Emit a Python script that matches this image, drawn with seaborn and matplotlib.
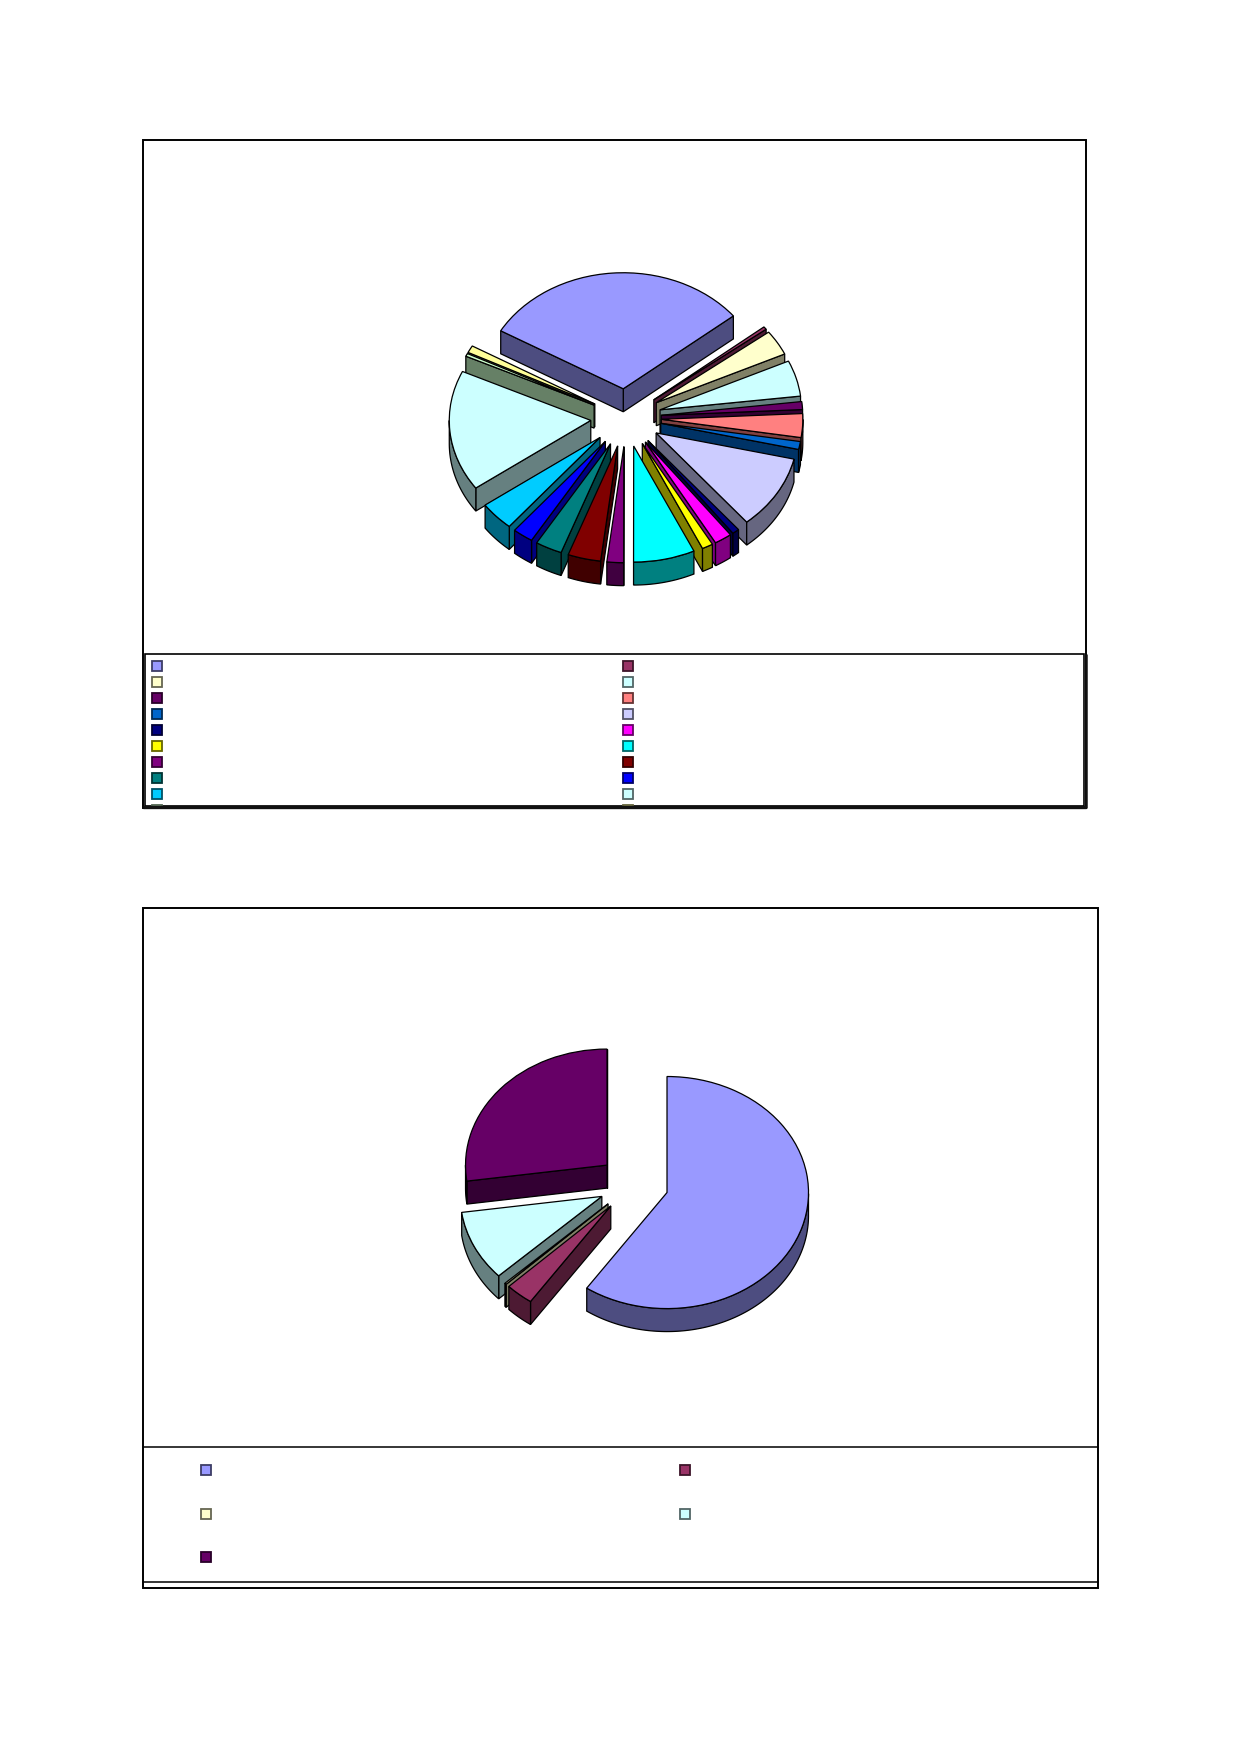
import numpy as np
import seaborn as sns
import matplotlib.pyplot as plt
from matplotlib.patches import Polygon, Rectangle

# slice shares (percent, clockwise)
top_values = [30.8, 0.4, 3.5, 5.0, 1.1, 3.3, 1.1, 10.3, 0.8, 2.0,
              1.25, 7.0, 1.9, 3.75, 3.05, 2.35, 4.0, 16.8, 0.4, 1.0]
top_colors = ['#9999FF', '#993366', '#FFFFCC', '#CCFFFF', '#660066',
              '#FF8080', '#0066CC', '#CCCCFF', '#000080', '#FF00FF',
              '#FFFF00', '#00FFFF', '#800080', '#800000', '#008080',
              '#0000FF', '#00CCFF', '#CCFFFF', '#CCFFCC', '#FFFF99']

bottom_values = [59.6, 3.2, 0.2, 9.8, 27.2]
bottom_colors = ['#9999FF', '#993366', '#FFFFCC', '#CCFFFF', '#660066']

W, H = 1239, 1752
RADIUS = 141.5
SQUASH = 0.82
DEPTH = 23

sns.set_theme(style='white')
fig = plt.figure(figsize=(W / 100, H / 100), dpi=100, facecolor='white')

# page axes in pixels, for the frames and legend keys
page = fig.add_axes([0, 0, 1, 1])
page.set_xlim(0, W)
page.set_ylim(H, 0)
page.axis('off')


def box(x0, y0, x1, y1, lw=1.4, color='black'):
    r = Rectangle((x0, y0), x1 - x0, y1 - y0, fill=False, ec=color, lw=lw)
    page.add_patch(r)
    return r


def pie_3d(values, colors, start, cx, cy, explode):
    size = 520
    ax = fig.add_axes([(cx - size / 2) / W, 1 - (cy + size / 2) / H, size / W, size / H])
    ax.patch.set_alpha(0)
    palette = sns.color_palette(colors)
    wedges, _ = ax.pie(values, explode=[explode] * len(values), colors=palette,
                       startangle=start, counterclock=False,
                       wedgeprops={'edgecolor': 'black', 'linewidth': 0.9})
    ax.set_aspect('auto')
    ax.set_xlim(-size / 2 / RADIUS, size / 2 / RADIUS)
    ax.set_ylim(-size / 2 / (RADIUS * SQUASH), size / 2 / (RADIUS * SQUASH))
    drop = DEPTH / (RADIUS * SQUASH)

    def key(w):
        mid = np.radians((w.theta1 + w.theta2) / 2)
        return w.center[1] + 0.5 * np.sin(mid)

    z = 2
    for w in sorted(wedges, key=key, reverse=True):
        dark = tuple(np.array(w.get_facecolor()[:3]) * 0.5)
        style = dict(fc=dark, ec='black', lw=0.9)
        x0, y0 = w.center
        # walls that face the viewer
        for angle, normal in [(w.theta1, w.theta1 - 90), (w.theta2, w.theta2 + 90)]:
            if np.sin(np.radians(normal)) < 0:
                a = np.radians(angle)
                rx, ry = x0 + w.r * np.cos(a), y0 + w.r * np.sin(a)
                ax.add_patch(Polygon([(x0, y0), (rx, ry), (rx, ry - drop), (x0, y0 - drop)],
                                     zorder=z, **style))
        # outer rim, front part only
        t = np.radians(np.linspace(w.theta1, w.theta2, 200))
        t = t[np.sin(t) < 0]
        if len(t) > 1:
            rim_x = x0 + w.r * np.cos(t)
            rim_y = y0 + w.r * np.sin(t)
            pts = list(zip(rim_x, rim_y)) + list(zip(rim_x[::-1], rim_y[::-1] - drop))
            ax.add_patch(Polygon(pts, zorder=z, **style))
        w.set_zorder(z + 1)
        z += 2


def keys(colors, xs, ys, clip=None):
    for i, c in enumerate(sns.color_palette(colors)):
        x, y = xs[i % 2], ys[i // 2]
        dark = tuple(np.array(c) * 0.4)
        r = Rectangle((x, y - 5), 10, 10, fc=c, ec=dark, lw=1.3)
        page.add_patch(r)
        if clip is not None:
            r.set_clip_path(clip)


# top chart
pie_3d(top_values, top_colors, 150, 626, 417.7, 0.25)
legend1 = Rectangle((145, 654), 939, 152, fc='white', ec='black', lw=1.2)
page.add_patch(legend1)
keys(top_colors, [151.5, 622.5], [666, 682, 698, 714, 730, 746, 762, 778, 794, 810], clip=legend1)
box(142.5, 140, 1086, 807.5)
page.plot([142.5, 1086], [807, 807], color='#111111', lw=2.4, solid_capstyle='butt')
page.plot([1085.5, 1085.5], [654, 808], color='#111111', lw=1.8, solid_capstyle='butt')

# bottom chart
pie_3d(bottom_values, bottom_colors, 90, 633.5, 1184, 0.248)
page.plot([142.5, 1098], [1447.3, 1447.3], color='black', lw=1.1)
page.plot([142.5, 1098], [1582, 1582], color='black', lw=1.1)
keys(bottom_colors, [200.5, 679.5], [1469.7, 1514.3, 1557.3])
box(142.5, 908, 1098, 1587.5)

fig.savefig('out.png', dpi=100)
